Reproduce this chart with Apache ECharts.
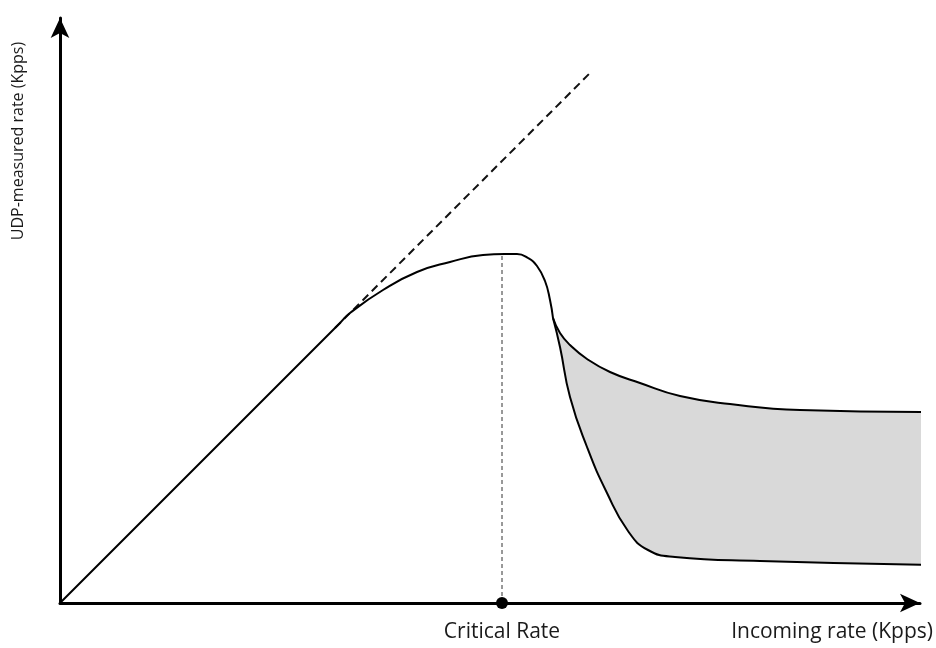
<!DOCTYPE html>
<html>
<head>
<meta charset="utf-8">
<script src="https://cdn.jsdelivr.net/npm/echarts@6/dist/echarts.min.js"></script>
<style>
  html, body { margin: 0; padding: 0; background: #fff; }
  #main { width: 936px; height: 648px; }
</style>
</head>
<body>
<div id="main"></div>
<script>
// schematic, units are arbitrary (Kpps)
var mainX = [0, 280, 290, 323, 357, 390, 423, 445, 457, 468, 477, 485, 490, 493];
var mainY = [0, 280, 290, 313, 331, 341, 348, 349, 349, 345, 337, 322, 303, 285];

// the two branches after the drop
var upperX = [493, 500, 510, 527, 550, 580, 620, 670, 740, 873];
var upperY = [285, 270, 258, 244, 231, 220, 207, 199, 193, 191];
var lowerX = [493, 500, 510, 527, 547, 568, 588, 615, 700, 873];
var lowerY = [285, 256, 206, 156, 110, 72, 53, 46, 42, 38];

var idealX = [275, 532];      // dashed "no loss" line y = x
var criticalRate = 442;
var peakRate = 349;

function pairs(xs, ys) {
  var out = [];
  for (var i = 0; i < xs.length; i++) out.push([xs[i], ys[i]]);
  return out;
}

var font = 'Open Sans';
var txtColor = '#1a1a1a';

var myChart = echarts.init(document.getElementById('main'));
var option = {
  animation: false,
  backgroundColor: '#fff',
  grid: { left: 60, right: 16, top: 18, bottom: 45 },
  xAxis: {
    type: 'value', min: 0, max: 860,
    z: 10,
    name: 'Incoming rate (Kpps)',
    nameLocation: 'end',
    nameGap: 13,
    nameTextStyle: {
      fontFamily: font, fontSize: 21, color: txtColor,
      align: 'right', verticalAlign: 'top', padding: [19, 0, 0, 0]
    },
    axisLine: {
      lineStyle: { color: '#000', width: 3 },
      symbol: ['none', 'arrow'], symbolSize: [14, 20]
    },
    axisTick: { show: false },
    axisLabel: { show: false },
    splitLine: { show: false }
  },
  yAxis: {
    type: 'value', min: 0, max: 585,
    z: 10,
    axisLine: {
      show: true,
      lineStyle: { color: '#000', width: 3 },
      symbol: ['none', 'arrow'], symbolSize: [14, 20]
    },
    axisTick: { show: false },
    axisLabel: { show: false },
    splitLine: { show: false }
  },
  graphic: [{
    type: 'text',
    x: 18, y: 141,
    rotation: Math.PI / 2,
    style: {
      text: 'UDP-measured rate (Kpps)',
      font: '16px "Open Sans"',
      fill: txtColor,
      align: 'center',
      verticalAlign: 'middle'
    }
  }],
  series: [
    {
      // grey band: fill under the upper branch ...
      type: 'line',
      data: pairs(upperX, upperY),
      smooth: 0.5,
      showSymbol: false,
      clip: false,
      z: 1,
      lineStyle: { color: '#000', width: 2 },
      areaStyle: { color: '#d9d9d9', opacity: 1 }
    },
    {
      // ... then white under the lower branch
      type: 'line',
      data: pairs(lowerX, lowerY),
      smooth: 0.5,
      showSymbol: false,
      clip: false,
      z: 2,
      lineStyle: { color: '#000', width: 2 },
      areaStyle: { color: '#fff', opacity: 1 }
    },
    {
      type: 'line',
      data: pairs(idealX, idealX),
      showSymbol: false,
      z: 3,
      lineStyle: { color: '#111', width: 2, type: [8, 5] }
    },
    {
      type: 'line',
      data: [[criticalRate, 0], [criticalRate, peakRate]],
      showSymbol: false,
      z: 3,
      lineStyle: { color: '#333', width: 1, type: [4, 3] }
    },
    {
      type: 'line',
      data: pairs(mainX, mainY),
      smooth: 0.5,
      showSymbol: false,
      z: 4,
      lineStyle: { color: '#000', width: 2 }
    },
    {
      type: 'scatter',
      data: [[criticalRate, 0]],
      symbolSize: 12,
      itemStyle: { color: '#000', opacity: 1 },
      z: 20,
      label: {
        show: true,
        position: 'bottom',
        distance: 13,
        formatter: 'Critical Rate',
        fontFamily: font, fontSize: 21, color: txtColor
      }
    }
  ]
};
myChart.setOption(option);
</script>
</body>
</html>
